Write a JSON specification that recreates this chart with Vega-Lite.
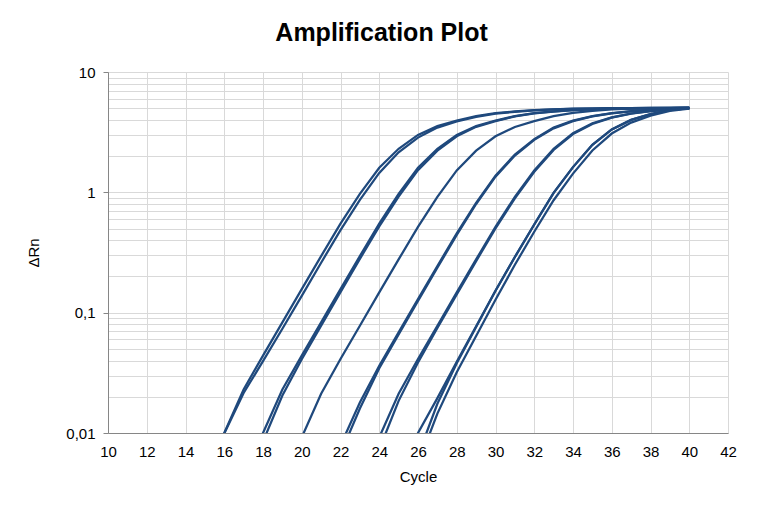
{
  "$schema": "https://vega.github.io/schema/vega-lite/v6.json",
  "width": 620,
  "height": 361,
  "autosize": {"type": "none"},
  "padding": {"left": 108, "top": 72, "right": 34, "bottom": 82},
  "background": "white",
  "title": {"text": "Amplification Plot", "font": "Liberation Sans", "fontSize": 25, "fontWeight": "bold", "color": "#000000", "anchor": "middle", "frame": "bounds", "offset": 19},
  "config": {"view": {"stroke": null}},
  "data": {"values": [
    {"well":"A1","cycle":15,"dRn":0.0045},{"well":"A1","cycle":16,"dRn":0.0100},{"well":"A1","cycle":17,"dRn":0.023},{"well":"A1","cycle":18,"dRn":0.044},{"well":"A1","cycle":19,"dRn":0.083},{"well":"A1","cycle":20,"dRn":0.157},{"well":"A1","cycle":21,"dRn":0.295},{"well":"A1","cycle":22,"dRn":0.55},{"well":"A1","cycle":23,"dRn":0.97},{"well":"A1","cycle":24,"dRn":1.6},{"well":"A1","cycle":25,"dRn":2.3},{"well":"A1","cycle":26,"dRn":3.0},{"well":"A1","cycle":27,"dRn":3.55},{"well":"A1","cycle":28,"dRn":3.95},{"well":"A1","cycle":29,"dRn":4.3},{"well":"A1","cycle":30,"dRn":4.55},{"well":"A1","cycle":31,"dRn":4.7},{"well":"A1","cycle":32,"dRn":4.82},{"well":"A1","cycle":33,"dRn":4.9},{"well":"A1","cycle":34,"dRn":4.95},{"well":"A1","cycle":35,"dRn":4.98},{"well":"A1","cycle":36,"dRn":5.0},{"well":"A1","cycle":37,"dRn":5.02},{"well":"A1","cycle":38,"dRn":5.03},{"well":"A1","cycle":39,"dRn":5.04},{"well":"A1","cycle":40,"dRn":5.05},
    {"well":"A2","cycle":15,"dRn":0.0044},{"well":"A2","cycle":16,"dRn":0.0099},{"well":"A2","cycle":17,"dRn":0.0215},{"well":"A2","cycle":18,"dRn":0.0395},{"well":"A2","cycle":19,"dRn":0.0735},{"well":"A2","cycle":20,"dRn":0.138},{"well":"A2","cycle":21,"dRn":0.26},{"well":"A2","cycle":22,"dRn":0.485},{"well":"A2","cycle":23,"dRn":0.865},{"well":"A2","cycle":24,"dRn":1.45},{"well":"A2","cycle":25,"dRn":2.15},{"well":"A2","cycle":26,"dRn":2.85},{"well":"A2","cycle":27,"dRn":3.45},{"well":"A2","cycle":28,"dRn":3.88},{"well":"A2","cycle":29,"dRn":4.24},{"well":"A2","cycle":30,"dRn":4.5},{"well":"A2","cycle":31,"dRn":4.67},{"well":"A2","cycle":32,"dRn":4.8},{"well":"A2","cycle":33,"dRn":4.88},{"well":"A2","cycle":34,"dRn":4.94},{"well":"A2","cycle":35,"dRn":4.97},{"well":"A2","cycle":36,"dRn":5.0},{"well":"A2","cycle":37,"dRn":5.01},{"well":"A2","cycle":38,"dRn":5.03},{"well":"A2","cycle":39,"dRn":5.04},{"well":"A2","cycle":40,"dRn":5.05},
    {"well":"B1","cycle":17,"dRn":0.0045},{"well":"B1","cycle":18,"dRn":0.0100},{"well":"B1","cycle":19,"dRn":0.023},{"well":"B1","cycle":20,"dRn":0.044},{"well":"B1","cycle":21,"dRn":0.083},{"well":"B1","cycle":22,"dRn":0.157},{"well":"B1","cycle":23,"dRn":0.295},{"well":"B1","cycle":24,"dRn":0.55},{"well":"B1","cycle":25,"dRn":0.97},{"well":"B1","cycle":26,"dRn":1.6},{"well":"B1","cycle":27,"dRn":2.3},{"well":"B1","cycle":28,"dRn":3.0},{"well":"B1","cycle":29,"dRn":3.55},{"well":"B1","cycle":30,"dRn":3.95},{"well":"B1","cycle":31,"dRn":4.3},{"well":"B1","cycle":32,"dRn":4.55},{"well":"B1","cycle":33,"dRn":4.7},{"well":"B1","cycle":34,"dRn":4.82},{"well":"B1","cycle":35,"dRn":4.9},{"well":"B1","cycle":36,"dRn":4.95},{"well":"B1","cycle":37,"dRn":4.98},{"well":"B1","cycle":38,"dRn":5.0},{"well":"B1","cycle":39,"dRn":5.02},{"well":"B1","cycle":40,"dRn":5.03},
    {"well":"B2","cycle":18,"dRn":0.0085},{"well":"B2","cycle":19,"dRn":0.0205},{"well":"B2","cycle":20,"dRn":0.041},{"well":"B2","cycle":21,"dRn":0.078},{"well":"B2","cycle":22,"dRn":0.148},{"well":"B2","cycle":23,"dRn":0.28},{"well":"B2","cycle":24,"dRn":0.52},{"well":"B2","cycle":25,"dRn":0.92},{"well":"B2","cycle":26,"dRn":1.53},{"well":"B2","cycle":27,"dRn":2.22},{"well":"B2","cycle":28,"dRn":2.92},{"well":"B2","cycle":29,"dRn":3.5},{"well":"B2","cycle":30,"dRn":3.91},{"well":"B2","cycle":31,"dRn":4.27},{"well":"B2","cycle":32,"dRn":4.53},{"well":"B2","cycle":33,"dRn":4.68},{"well":"B2","cycle":34,"dRn":4.81},{"well":"B2","cycle":35,"dRn":4.89},{"well":"B2","cycle":36,"dRn":4.94},{"well":"B2","cycle":37,"dRn":4.97},{"well":"B2","cycle":38,"dRn":4.99},{"well":"B2","cycle":39,"dRn":5.01},{"well":"B2","cycle":40,"dRn":5.02},
    {"well":"C1","cycle":20,"dRn":0.0092},{"well":"C1","cycle":21,"dRn":0.0212},{"well":"C1","cycle":22,"dRn":0.0412},{"well":"C1","cycle":23,"dRn":0.0779},{"well":"C1","cycle":24,"dRn":0.1473},{"well":"C1","cycle":25,"dRn":0.277},{"well":"C1","cycle":26,"dRn":0.517},{"well":"C1","cycle":27,"dRn":0.916},{"well":"C1","cycle":28,"dRn":1.522},{"well":"C1","cycle":29,"dRn":2.218},{"well":"C1","cycle":30,"dRn":2.92},{"well":"C1","cycle":31,"dRn":3.49},{"well":"C1","cycle":32,"dRn":3.91},{"well":"C1","cycle":33,"dRn":4.3},{"well":"C1","cycle":34,"dRn":4.58},{"well":"C1","cycle":35,"dRn":4.76},{"well":"C1","cycle":36,"dRn":4.88},{"well":"C1","cycle":37,"dRn":4.95},{"well":"C1","cycle":38,"dRn":5.0},{"well":"C1","cycle":39,"dRn":5.03},{"well":"C1","cycle":40,"dRn":5.05},
    {"well":"D1","cycle":22,"dRn":0.0079},{"well":"D1","cycle":23,"dRn":0.0179},{"well":"D1","cycle":24,"dRn":0.0362},{"well":"D1","cycle":25,"dRn":0.0686},{"well":"D1","cycle":26,"dRn":0.1296},{"well":"D1","cycle":27,"dRn":0.244},{"well":"D1","cycle":28,"dRn":0.456},{"well":"D1","cycle":29,"dRn":0.818},{"well":"D1","cycle":30,"dRn":1.377},{"well":"D1","cycle":31,"dRn":2.06},{"well":"D1","cycle":32,"dRn":2.77},{"well":"D1","cycle":33,"dRn":3.45},{"well":"D1","cycle":34,"dRn":3.95},{"well":"D1","cycle":35,"dRn":4.3},{"well":"D1","cycle":36,"dRn":4.55},{"well":"D1","cycle":37,"dRn":4.72},{"well":"D1","cycle":38,"dRn":4.85},{"well":"D1","cycle":39,"dRn":4.95},{"well":"D1","cycle":40,"dRn":5.02},
    {"well":"D2","cycle":22,"dRn":0.0067},{"well":"D2","cycle":23,"dRn":0.016},{"well":"D2","cycle":24,"dRn":0.0345},{"well":"D2","cycle":25,"dRn":0.066},{"well":"D2","cycle":26,"dRn":0.125},{"well":"D2","cycle":27,"dRn":0.236},{"well":"D2","cycle":28,"dRn":0.443},{"well":"D2","cycle":29,"dRn":0.8},{"well":"D2","cycle":30,"dRn":1.35},{"well":"D2","cycle":31,"dRn":2.02},{"well":"D2","cycle":32,"dRn":2.73},{"well":"D2","cycle":33,"dRn":3.4},{"well":"D2","cycle":34,"dRn":3.91},{"well":"D2","cycle":35,"dRn":4.27},{"well":"D2","cycle":36,"dRn":4.53},{"well":"D2","cycle":37,"dRn":4.7},{"well":"D2","cycle":38,"dRn":4.84},{"well":"D2","cycle":39,"dRn":4.94},{"well":"D2","cycle":40,"dRn":5.01},
    {"well":"E1","cycle":24,"dRn":0.0092},{"well":"E1","cycle":25,"dRn":0.0212},{"well":"E1","cycle":26,"dRn":0.0412},{"well":"E1","cycle":27,"dRn":0.0779},{"well":"E1","cycle":28,"dRn":0.1473},{"well":"E1","cycle":29,"dRn":0.277},{"well":"E1","cycle":30,"dRn":0.517},{"well":"E1","cycle":31,"dRn":0.916},{"well":"E1","cycle":32,"dRn":1.52},{"well":"E1","cycle":33,"dRn":2.3},{"well":"E1","cycle":34,"dRn":3.1},{"well":"E1","cycle":35,"dRn":3.75},{"well":"E1","cycle":36,"dRn":4.2},{"well":"E1","cycle":37,"dRn":4.52},{"well":"E1","cycle":38,"dRn":4.73},{"well":"E1","cycle":39,"dRn":4.88},{"well":"E1","cycle":40,"dRn":5.0},
    {"well":"E2","cycle":24,"dRn":0.0073},{"well":"E2","cycle":25,"dRn":0.0185},{"well":"E2","cycle":26,"dRn":0.0385},{"well":"E2","cycle":27,"dRn":0.0745},{"well":"E2","cycle":28,"dRn":0.142},{"well":"E2","cycle":29,"dRn":0.268},{"well":"E2","cycle":30,"dRn":0.502},{"well":"E2","cycle":31,"dRn":0.89},{"well":"E2","cycle":32,"dRn":1.48},{"well":"E2","cycle":33,"dRn":2.25},{"well":"E2","cycle":34,"dRn":3.05},{"well":"E2","cycle":35,"dRn":3.7},{"well":"E2","cycle":36,"dRn":4.17},{"well":"E2","cycle":37,"dRn":4.5},{"well":"E2","cycle":38,"dRn":4.72},{"well":"E2","cycle":39,"dRn":4.87},{"well":"E2","cycle":40,"dRn":5.0},
    {"well":"F1","cycle":25,"dRn":0.004},{"well":"F1","cycle":26,"dRn":0.0100},{"well":"F1","cycle":27,"dRn":0.0195},{"well":"F1","cycle":28,"dRn":0.039},{"well":"F1","cycle":29,"dRn":0.077},{"well":"F1","cycle":30,"dRn":0.152},{"well":"F1","cycle":31,"dRn":0.29},{"well":"F1","cycle":32,"dRn":0.54},{"well":"F1","cycle":33,"dRn":0.99},{"well":"F1","cycle":34,"dRn":1.62},{"well":"F1","cycle":35,"dRn":2.48},{"well":"F1","cycle":36,"dRn":3.33},{"well":"F1","cycle":37,"dRn":4.0},{"well":"F1","cycle":38,"dRn":4.47},{"well":"F1","cycle":39,"dRn":4.83},{"well":"F1","cycle":40,"dRn":5.0},
    {"well":"G1","cycle":26,"dRn":0.0065},{"well":"G1","cycle":27,"dRn":0.0175},{"well":"G1","cycle":28,"dRn":0.038},{"well":"G1","cycle":29,"dRn":0.076},{"well":"G1","cycle":30,"dRn":0.152},{"well":"G1","cycle":31,"dRn":0.29},{"well":"G1","cycle":32,"dRn":0.54},{"well":"G1","cycle":33,"dRn":0.99},{"well":"G1","cycle":34,"dRn":1.62},{"well":"G1","cycle":35,"dRn":2.48},{"well":"G1","cycle":36,"dRn":3.33},{"well":"G1","cycle":37,"dRn":4.0},{"well":"G1","cycle":38,"dRn":4.47},{"well":"G1","cycle":39,"dRn":4.83},{"well":"G1","cycle":40,"dRn":5.0},
    {"well":"G2","cycle":26,"dRn":0.0055},{"well":"G2","cycle":27,"dRn":0.0145},{"well":"G2","cycle":28,"dRn":0.032},{"well":"G2","cycle":29,"dRn":0.064},{"well":"G2","cycle":30,"dRn":0.128},{"well":"G2","cycle":31,"dRn":0.25},{"well":"G2","cycle":32,"dRn":0.47},{"well":"G2","cycle":33,"dRn":0.86},{"well":"G2","cycle":34,"dRn":1.43},{"well":"G2","cycle":35,"dRn":2.23},{"well":"G2","cycle":36,"dRn":3.08},{"well":"G2","cycle":37,"dRn":3.8},{"well":"G2","cycle":38,"dRn":4.33},{"well":"G2","cycle":39,"dRn":4.75},{"well":"G2","cycle":40,"dRn":4.97}
  ]},
  "mark": {"type": "line", "color": "#1f497d", "strokeWidth": 2.25, "clip": true},
  "encoding": {
    "detail": {"field": "well", "type": "nominal"},
    "x": {"field": "cycle", "type": "quantitative",
      "scale": {"domain": [10, 42], "nice": false, "zero": false},
      "axis": {"title": "Cycle", "values": [10,12,14,16,18,20,22,24,26,28,30,32,34,36,38,40,42],
        "grid": true, "gridColor": "#d9d9d9", "gridWidth": 1,
        "domainColor": "#868686", "domainWidth": 1, "tickColor": "#868686", "tickSize": 5, "tickOpacity": 0,
        "labelFont": "Liberation Sans", "labelFontSize": 15, "labelColor": "#000000", "labelPadding": 6, "labelFlush": false, "labelOverlap": false,
        "titleFont": "Liberation Sans", "titleFontSize": 15, "titleFontWeight": "normal", "titleColor": "#000000", "titlePadding": 10}},
    "y": {"field": "dRn", "type": "quantitative",
      "scale": {"type": "log", "domain": [0.01, 10], "nice": false},
      "axis": {"title": "ΔRn",
        "values": [0.01,0.02,0.03,0.04,0.05,0.06,0.07,0.08,0.09,0.1,0.2,0.3,0.4,0.5,0.6,0.7,0.8,0.9,1,2,3,4,5,6,7,8,9,10],
        "labelExpr": "datum.value == 10 ? '10' : datum.value == 1 ? '1' : datum.value == 0.1 ? '0,1' : datum.value == 0.01 ? '0,01' : ''",
        "grid": true, "gridColor": "#d9d9d9", "gridWidth": 1,
        "domainColor": "#868686", "domainWidth": 1, "tickColor": "#868686", "tickSize": 5,
        "tickOpacity": {"condition": {"test": "datum.value == 10 || datum.value == 1 || datum.value == 0.1 || datum.value == 0.01", "value": 1}, "value": 0},
        "labelFont": "Liberation Sans", "labelFontSize": 15, "labelColor": "#000000", "labelPadding": 8, "labelOverlap": false, "labelFlush": false,
        "titleFont": "Liberation Sans", "titleFontSize": 15, "titleFontWeight": "normal", "titleColor": "#000000", "titlePadding": 24}}
  }
}
